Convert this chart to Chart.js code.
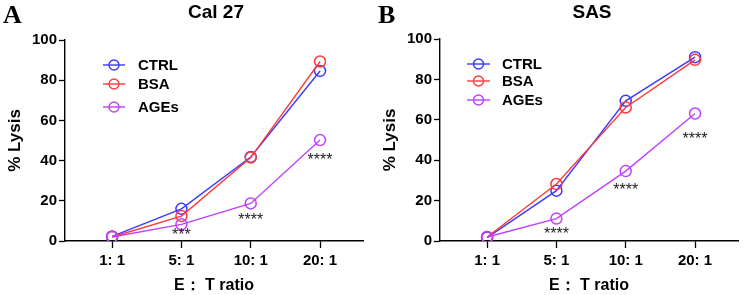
<!DOCTYPE html>
<html><head><meta charset="utf-8">
<script src="https://cdn.jsdelivr.net/npm/chart.js@4/dist/chart.umd.min.js"></script>
<style>
html,body{margin:0;padding:0;background:#fff;width:745px;height:295px;overflow:hidden;}
.wrap{position:absolute;top:0;height:295px;}
</style></head><body>
<div class="wrap" style="left:0;width:372px"><canvas id="cA" width="372" height="295"></canvas></div>
<div class="wrap" style="left:375px;width:370px"><canvas id="cB" width="370" height="295"></canvas></div>
<script>
// ---- data ----
const categories = ["1: 1", "5: 1", "10: 1", "20: 1"];
const seriesNames = ["CTRL", "BSA", "AGEs"];
const ctrlA = [2.3, 16.0, 41.8, 84.6];
const bsaA  = [2.0, 12.4, 41.5, 89.3];
const agesA = [2.0, 8.3, 18.7, 50.2];
const ctrlB = [1.7, 24.9, 69.4, 91.0];
const bsaB  = [2.0, 28.2, 66.1, 89.7];
const agesB = [2.0, 11.1, 34.6, 63.1];
const starsA = ["***", "****", "****"];
const starsAy = [4.1, 11.6, 41.3];
const starsB = ["****", "****", "****"];
const starsBy = [4.7, 26.6, 51.5];
const starsX = [1, 2, 3];
const yTicks = [0, 20, 40, 60, 80, 100];

const colors = ["#3a3aff", "#ff3a3a", "#c040ff"];

function makeChart(id, title, letter, vals, stars, starsY, padRight, legendCfg) {
  const ctx = document.getElementById(id);
  const datasets = vals.map((v, i) => ({
    label: seriesNames[i],
    data: v.map((y, j) => ({x: j, y: y})),
    borderColor: colors[i],
    backgroundColor: 'rgba(0,0,0,0)',
    borderWidth: 1.4,
    pointRadius: 5.5,
    pointBorderWidth: 1.5,
    pointStyle: 'circle',
    pointBackgroundColor: 'rgba(0,0,0,0)',
    pointBorderColor: colors[i],
    tension: 0,
    order: 3 - i
  }));
  const deco = {
    id: 'deco',
    afterDraw(chart) {
      const c = chart.ctx;
      const xs = chart.scales.x, ys = chart.scales.y;
      c.save();
      // panel letter
      c.fillStyle = '#000';
      c.font = 'bold 26px "Liberation Serif", "DejaVu Serif", serif';
      c.textAlign = 'left'; c.textBaseline = 'middle';
      c.fillText(letter, 3, 16);
      // title
      c.font = 'bold 19px "Liberation Sans", Arial, sans-serif';
      c.textAlign = 'center';
      c.fillText(title, legendCfg.titleX, 13);
      // stars
      c.font = '16px "Liberation Sans", Arial, sans-serif';
      c.fillStyle = '#222';
      c.textBaseline = 'middle';
      for (let k = 0; k < stars.length; k++) {
        c.fillText(stars[k], xs.getPixelForValue(starsX[k]), ys.getPixelForValue(starsY[k]) + 3);
      }
      // legend
      c.font = 'bold 15px "Liberation Sans", Arial, sans-serif';
      c.textAlign = 'left';
      chart.data.datasets.forEach((ds, i) => {
        const y = legendCfg.rows[i];
        c.strokeStyle = ds.borderColor; c.lineWidth = 1.4;
        c.beginPath(); c.moveTo(legendCfg.x0, y); c.lineTo(legendCfg.x1, y); c.stroke();
        c.beginPath(); c.arc((legendCfg.x0 + legendCfg.x1) / 2, y, 5, 0, Math.PI * 2); c.stroke();
        c.fillStyle = '#000';
        c.fillText(ds.label, legendCfg.tx, y + 1);
      });
      c.restore();
    }
  };
  return new Chart(ctx, {
    type: 'line',
    data: { datasets },
    plugins: [deco],
    options: {
      responsive: false,
      animation: false,
      layout: { padding: { top: legendCfg.top, right: padRight, left: 0, bottom: 0 } },
      plugins: { legend: { display: false }, tooltip: { enabled: false } },
      scales: {
        x: {
          type: 'linear', min: -0.68, max: 3.62,
          afterBuildTicks: (s) => { s.ticks = categories.map((_, i) => ({ value: i })); },
          afterFit: (s) => { s.height = 54; },
          grid: { drawOnChartArea: false, drawTicks: true, tickLength: 7, color: '#000', tickWidth: 1.3 },
          border: { display: true, color: '#000', width: 1.4 },
          ticks: {
            callback: (v) => categories[v] !== undefined ? categories[v] : '',
            color: '#000', padding: 4,
            font: { family: '"Liberation Sans", Arial, sans-serif', size: 15, weight: 'bold' },
            maxRotation: 0, autoSkip: false
          },
          title: {
            display: true, text: 'E： T ratio', color: '#000',
            padding: { top: 0, bottom: 0 },
            font: { family: '"Liberation Sans", Arial, sans-serif', size: 16, weight: 'bold' }
          }
        },
        y: {
          min: 0, max: 100,
          afterBuildTicks: (s) => { s.ticks = yTicks.map(v => ({ value: v })); },
          afterFit: (s) => { s.width = 65; },
          grid: { drawOnChartArea: false, drawTicks: true, tickLength: 6, color: '#000', tickWidth: 1.3 },
          border: { display: true, color: '#000', width: 1.4 },
          ticks: {
            color: '#000', padding: 2,
            font: { family: '"Liberation Sans", Arial, sans-serif', size: 15, weight: 'bold' }
          },
          title: {
            display: true, text: '% Lysis', color: '#000',
            padding: { top: 5, bottom: 0 },
            font: { family: '"Liberation Sans", Arial, sans-serif', size: 17, weight: 'bold' }
          }
        }
      }
    }
  });
}

makeChart('cA', 'Cal 27', 'A', [ctrlA, bsaA, agesA], starsA, starsAy, 9,
  { top: 40, titleX: 216, x0: 103, x1: 125, tx: 138, rows: [65, 84, 107] });
makeChart('cB', 'SAS', 'B', [ctrlB, bsaB, agesB], starsB, starsBy, 7,
  { top: 39, titleX: 217, x0: 92, x1: 115, tx: 127, rows: [64, 81, 100] });
</script>
</body></html>
